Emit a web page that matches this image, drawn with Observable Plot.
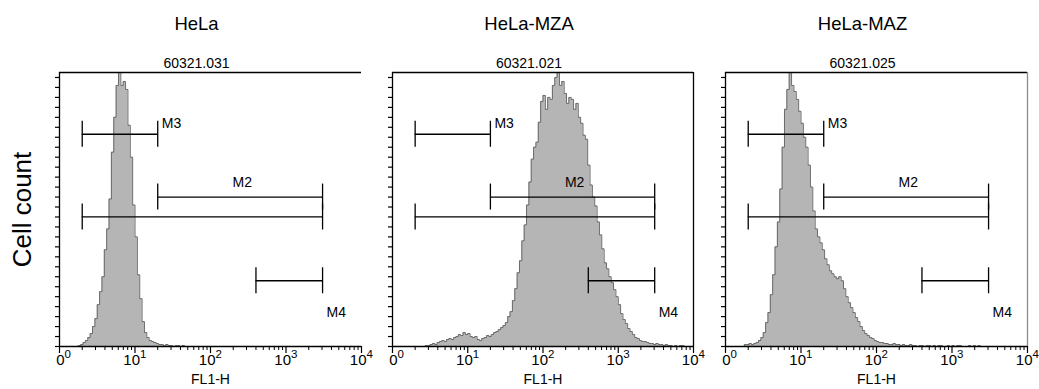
<!DOCTYPE html>
<html><head><meta charset="utf-8">
<script src="https://cdn.jsdelivr.net/npm/d3@7"></script>
<script src="https://cdn.jsdelivr.net/npm/@observablehq/plot@0.6"></script>
<style>
body{margin:0;background:#fff;font-family:"Liberation Sans",Arial,sans-serif}
#chart{position:relative;width:1039px;height:389px;overflow:hidden}
#chart svg{position:absolute;top:0}
</style></head><body><div id="chart"></div>
<script>
// ---- data ----
const binsPerDecade = 32;          // histogram channels per decade (log scale)
const totalBins = 128;             // 4 decades
const panelTitles = ["HeLa", "HeLa-MZA", "HeLa-MAZ"];
const sampleIds = ["60321.031", "60321.021", "60321.025"];

const helaStart = 8;
const helaCounts = [1,2,4,6,9,13,20,28,42,55,70,97,118,148,195,230,262,275,262,266,258,222,190,142,110,72,48,25,14,9,6,5,4,3,2,2,1,2,1,1,0,1,1,0,1];

const mzaStart = 14;
const mzaCounts = [1,1,2,3,2,4,5,6,5,7,8,7,9,10,12,11,14,12,13,10,9,10,7,6,8,9,11,10,12,14,15,17,19,21,24,30,35,46,58,74,86,106,122,142,165,188,200,205,225,246,252,238,250,248,262,270,275,262,266,254,244,250,248,238,244,230,224,212,208,182,162,150,141,125,112,98,84,78,70,64,57,50,42,33,27,23,18,15,12,9,8,6,5,5,4,3,3,2,3,2,2,1,2,1,1,0,1,0,1,1];

const mazStart = 8;
const mazCounts = [2,2,3,2,3,4,6,9,14,24,34,52,72,100,125,158,200,238,258,275,262,256,248,236,224,210,200,182,160,136,118,110,104,97,88,82,76,73,70,68,70,66,58,50,44,39,34,29,25,20,16,13,11,9,8,6,5,4,4,3,3,2,2,3,2,2,1,2,1,1,2,1,1,0,1,1,0,1,1,0,1,0,1,1,0,0,1,0,1,0,1,1,0,0,0,1,0,1,0,1];

const tickValues = [1, 10, 100, 1000, 10000];
const tickBase = ["0", "10", "10", "10", "10"];
const tickExp = ["0", "1", "2", "3", "4"];
const minorTickValues = [2,3,4,5,6,7,8,9,20,30,40,50,60,70,80,90,200,300,400,500,600,700,800,900,2000,3000,4000,5000,6000,7000,8000,9000];
const yMax = 275;
const yTickValues = d3.range(0, 271, 10);

// gate markers (M1 is unlabeled)
const markerNames = ["M3", "M2", "", "M4"];
const markerLo = [2, 20, 2, 400];
const markerHi = [20, 3050, 3050, 3050];
const markerLevel = [213, 150, 130, 66];

// ---- layout ----
const FONT = '"Liberation Sans", Arial, Helvetica, sans-serif';
const layout = [
  {left: 0,   width: 376, ml: 59, mr: 15, start: helaStart, counts: helaCounts, right: null},
  {left: 376, width: 334, ml: 16, mr: 17, start: mzaStart,  counts: mzaCounts,  right: "#000"},
  {left: 710, width: 329, ml: 15, mr: 12, start: mazStart,  counts: mazCounts,  right: "#8c8c8c"}
];

function histogram(start, counts) {
  const full = new Array(totalBins).fill(0);
  counts.forEach((c, k) => { full[start + k] = c; });
  const pts = full.map((c, i) => ({x: Math.pow(10, i / binsPerDecade), y: c}));
  pts.push({x: 1e4, y: 0});
  return pts;
}

const markers = markerNames.map((n, i) => ({name: n, lo: markerLo[i], hi: markerHi[i], level: markerLevel[i]}));
const markerEnds = markers.flatMap(m => [{x: m.lo, level: m.level}, {x: m.hi, level: m.level}]);
const sideLabels = [
  {t: "M3", x: 20,   y: 224},
  {t: "M4", x: 3050, y: 34}
];
const centerLabels = [{t: "M2", x: 263, y: 165}];
const ticks = tickValues.map((v, i) => ({v, base: tickBase[i], exp: tickExp[i]}));

const chart = document.getElementById("chart");
layout.forEach((p, idx) => {
  const data = histogram(p.start, p.counts);
  const marks = [
    Plot.areaY(data, {x: "x", y: "y", curve: "step-after", fill: "#b5b5b5"}),
    Plot.lineY(data, {x: "x", y: "y", curve: "step-after", stroke: "#6b6b6b", strokeWidth: 1}),
    // gates
    Plot.ruleY(markers, {y: "level", x1: "lo", x2: "hi", stroke: "#000", strokeWidth: 1.3}),
    Plot.ruleX(markerEnds, {x: "x", y1: "level", y2: "level", insetTop: -13, insetBottom: -13, stroke: "#000", strokeWidth: 1.3}),
    Plot.text(sideLabels, {x: "x", y: "y", text: "t", textAnchor: "start", dx: 4, lineAnchor: "middle", fontSize: 14, fill: "#000"}),
    Plot.text(centerLabels, {x: "x", y: "y", text: "t", textAnchor: "middle", lineAnchor: "middle", fontSize: 14, fill: "#000"}),
    // frame
    Plot.ruleY([0], {stroke: "#000", strokeWidth: 1.3}),
    Plot.ruleX([1], {stroke: "#000", strokeWidth: 1.3}),
    Plot.ruleY([yMax], {stroke: "#000", strokeWidth: 1.3}),
    // y ticks
    Plot.ruleY(yTickValues, {y: d => d, x1: 1, x2: 1, insetLeft: -4, stroke: "#000", strokeWidth: 1.2}),
    // x ticks
    Plot.ruleX(tickValues, {x: d => d, y1: 0, y2: 0, insetBottom: -7, stroke: "#000", strokeWidth: 1.2}),
    Plot.ruleX(minorTickValues, {x: d => d, y1: 0, y2: 0, insetBottom: -4, stroke: "#000", strokeWidth: 1}),
    Plot.text(ticks, {x: "v", text: "base", frameAnchor: "bottom", lineAnchor: "middle", textAnchor: "end", dx: 5, dy: 14, fontSize: 15, fill: "#000"}),
    Plot.text(ticks, {x: "v", text: "exp", frameAnchor: "bottom", lineAnchor: "middle", textAnchor: "start", dx: 5, dy: 8, fontSize: 11.5, fill: "#000"}),
    Plot.text(["FL1-H"], {text: d => d, frameAnchor: "bottom", lineAnchor: "middle", textAnchor: "middle", dy: 33, fontSize: 14, fill: "#000"}),
    // titles
    Plot.text([panelTitles[idx]], {text: d => d, frameAnchor: "top", lineAnchor: "middle", textAnchor: "middle", dx: -14, dy: -48, fontSize: 18.5, fill: "#000"}),
    Plot.text([sampleIds[idx]], {text: d => d, frameAnchor: "top", lineAnchor: "middle", textAnchor: "middle", dx: -14, dy: -9, fontSize: 14, fill: "#000"})
  ];
  if (p.right) marks.push(Plot.ruleX([1e4], {stroke: p.right, strokeWidth: 1.3}));
  if (idx === 0) marks.push(Plot.text(["Cell count"], {text: d => d, frameAnchor: "left", lineAnchor: "middle", textAnchor: "middle", dx: -37, rotate: -90, fontSize: 26, fill: "#000"}));
  const svg = Plot.plot({
    width: p.width, height: 389,
    marginTop: 72, marginBottom: 43, marginLeft: p.ml, marginRight: p.mr,
    x: {type: "log", domain: [1, 1e4], axis: null},
    y: {domain: [0, yMax], axis: null},
    style: {fontFamily: FONT, background: "transparent", overflow: "visible", color: "#000"},
    marks
  });
  svg.style.left = p.left + "px";
  chart.appendChild(svg);
});
</script></body></html>
